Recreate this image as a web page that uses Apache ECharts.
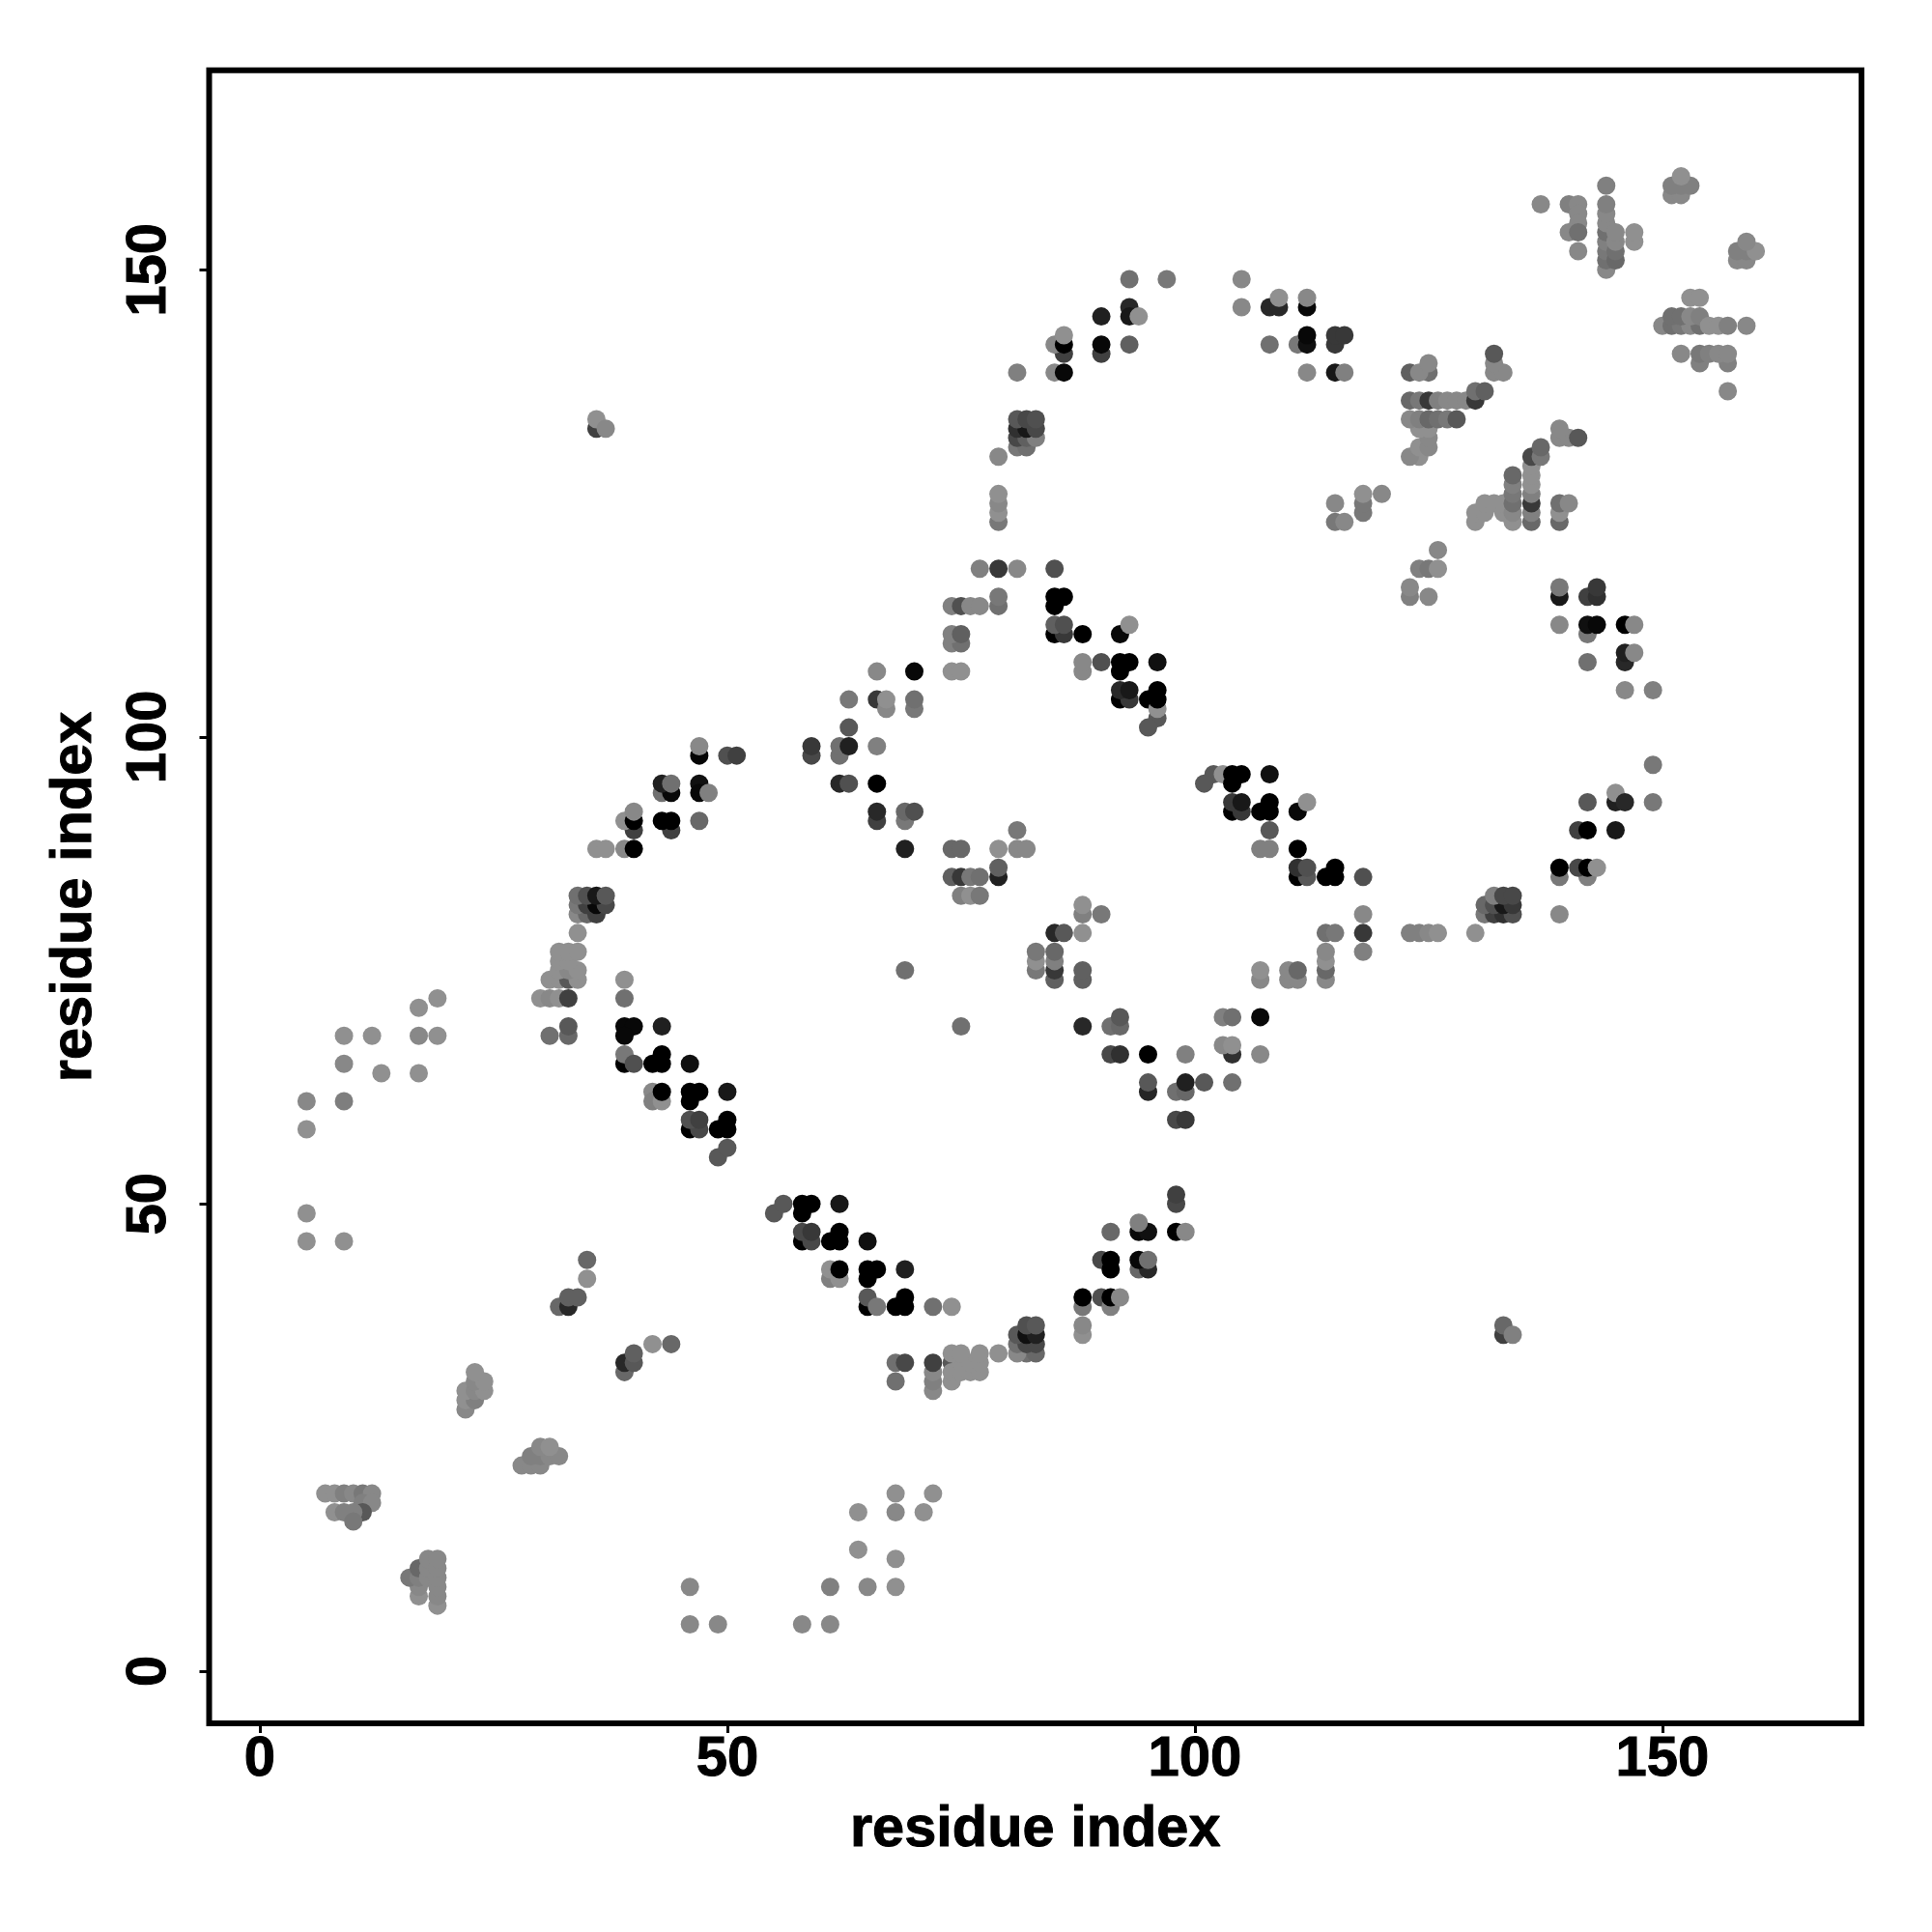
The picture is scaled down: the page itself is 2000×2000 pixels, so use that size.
<!DOCTYPE html>
<html><head><meta charset="utf-8">
<style>html,body{margin:0;padding:0;background:#fff}#c{width:2000px;height:2000px}</style>
<script src="https://cdn.jsdelivr.net/npm/echarts@6/dist/echarts.min.js"></script>
</head><body><div id="c"></div>
<script>
// each contact: [residue i, residue j, level]; level 0 = darkest, 0x90 = lightest
const tickValues = [0, 50, 100, 150];
const axisTitle = 'residue index';
const lowerLeft = [
[7,19,0x90],[8,19,0x90],[9,19,0x80],[10,19,0x88],[11,19,0x78],[12,19,0x88],[11,18,0x80],[12,18,0x88],
[8,17,0x90],[9,17,0x80],[11,17,0x58],[10,17,0x80],[10,16,0x78],
[17,8,0x90],[17,9,0x88],[16,10,0x78],[17,10,0x80],[17,11,0x68],[18,10,0x88],[18,11,0x88],[18,12,0x88],
[19,7,0x90],[19,8,0x88],[19,9,0x88],[19,10,0x88],[19,11,0x88],[19,12,0x88],
[28,22,0x88],[29,22,0x88],[30,22,0x88],[29,23,0x80],[30,23,0x80],[31,23,0x88],[32,23,0x88],[30,24,0x88],[31,24,0x90],
[22,28,0x88],[22,29,0x90],[23,29,0x80],[22,30,0x90],[23,30,0x88],[24,30,0x90],[23,31,0x88],[24,31,0x90],[23,32,0x90],
[39,32,0x68],[39,33,0x28],[40,33,0x58],[40,34,0x60],[42,35,0x90],[44,35,0x68],
[32,39,0x68],[33,39,0x28],[33,40,0x60],[34,40,0x60],[35,42,0x90],[35,44,0x68],
[5,46,0x90],[9,46,0x90],[5,49,0x90],[5,58,0x90],[5,61,0x88],[9,61,0x7e],[9,65,0x88],[13,64,0x90],[17,64,0x90],
[9,68,0x90],[12,68,0x90],[17,68,0x88],[19,68,0x90],[17,71,0x90],[19,72,0x90],
[46,5,0x88],[49,5,0x88],[46,9,0x88],[58,5,0x88],[61,5,0x88],[61,9,0x80],[65,9,0x88],[68,9,0x90],
[68,12,0x90],[64,13,0x90],[64,17,0x90],[68,17,0x88],[71,17,0x90],[68,19,0x90],[72,19,0x90]
];
const helixA = [
[30,72,0x90],[31,72,0x88],[32,72,0x90],[33,72,0x40],[31,74,0x90],[32,74,0x90],[33,74,0x58],[34,74,0x90],
[32,75,0x90],[33,75,0x88],[34,75,0x90],[32,76,0x90],[33,76,0x90],[32,77,0x90],[33,77,0x90],[34,77,0x90],[34,79,0x90],
[34,81,0x88],[35,81,0x68],[36,81,0x40],[34,82,0x78],[35,82,0x40],[36,82,0x08],[37,82,0x48],
[34,83,0x70],[35,83,0x50],[36,83,0x18],[37,83,0x58],
[39,74,0x90],[39,72,0x70],[33,68,0x68],[33,69,0x58],[31,68,0x70],
[39,69,0x08],[40,69,0x08],[39,68,0x08],[43,69,0x20],[39,65,0x00],[39,66,0x78],[40,65,0x50],
[42,65,0x00],[43,65,0x00],[43,66,0x00],[46,65,0x10],
[42,62,0x88],[42,61,0x80],[43,61,0x90],[43,62,0x00],[46,61,0x00],[46,62,0x00],[47,62,0x00],[50,62,0x18],
[46,58,0x00],[47,58,0x48],[46,59,0x50],[47,59,0x40],[49,58,0x00],[50,58,0x00],[50,59,0x00],[49,55,0x58],[50,56,0x58]
];
const helixB = [
[36,88,0x90],[37,88,0x90],[39,88,0x88],[40,88,0x00],[40,90,0x40],[39,91,0x90],[40,91,0x00],[40,92,0x88],
[44,90,0x40],[43,91,0x00],[44,91,0x00],[47,91,0x68],[43,94,0x70],[44,94,0x08],[43,95,0x20],[44,95,0x70],
[47,95,0x10],[47,94,0x08],[48,94,0x80],[47,98,0x05],[47,99,0x88],[50,98,0x50],[51,98,0x40],
[59,98,0x48],[59,99,0x38],[62,98,0x70],[62,99,0x70],[63,99,0x20],[66,99,0x80],[63,101,0x58],
[62,95,0x28],[63,95,0x50],[66,95,0x00],[66,91,0x40],[66,92,0x28],[69,91,0x78],[69,92,0x68],[70,92,0x50],[69,88,0x20],
[63,104,0x78],[66,104,0x38],[67,103,0x88],[67,104,0x90],[70,103,0x78],[70,104,0x70],[66,107,0x88],[70,107,0x08],
[74,107,0x90],[75,107,0x90],[74,110,0x80],[75,110,0x70],[74,111,0x80],[75,111,0x60],
[74,114,0x80],[75,114,0x50],[76,114,0x88],[77,114,0x88],[79,114,0x70],[79,115,0x78],
[77,118,0x80],[79,118,0x38],[81,118,0x88],
[74,88,0x68],[75,88,0x68],[79,88,0x90],[81,88,0x88],[82,88,0x88],[81,90,0x78],
[74,85,0x60],[75,85,0x38],[76,85,0x78],[77,85,0x70],[79,85,0x20],[79,86,0x60],
[75,83,0x80],[76,83,0x90],[77,83,0x78],[69,75,0x70],[75,69,0x70]
];
const helixC = [
[85,118,0x50],[85,114,0x00],[85,115,0x00],[86,115,0x00],[85,111,0x00],[86,111,0x38],[85,112,0x60],[86,112,0x50],[88,111,0x00],
[92,111,0x08],[93,112,0x90],[88,107,0x88],[88,108,0x88],[90,108,0x50],[92,107,0x00],[92,108,0x00],[93,108,0x00],[96,108,0x10],
[92,104,0x00],[93,104,0x38],[92,105,0x28],[93,105,0x18],[95,104,0x00],[96,102,0x58],[95,101,0x58],[96,103,0x90],[96,104,0x00],[96,105,0x00],
[102,96,0x58],[101,95,0x58],[103,96,0x90],[104,95,0x00],[104,96,0x00],[105,96,0x00],[108,96,0x10],
[104,92,0x00],[105,92,0x38],[104,93,0x38],[105,93,0x18],[107,92,0x00],[108,92,0x00],[108,93,0x00],[111,92,0x08],[112,93,0x90],
[108,90,0x58],[107,88,0x80],[108,88,0x80],[111,88,0x00],
[111,85,0x00],[112,85,0x58],[111,86,0x30],[112,86,0x50],[114,85,0x00],[115,85,0x00],[115,86,0x00],[118,85,0x50],
[118,81,0x88],[118,79,0x38],[118,77,0x80],
[88,81,0x80],[88,82,0x90],[90,81,0x78],[85,79,0x28],[86,79,0x58],[88,79,0x90],
[83,75,0x78],[83,76,0x90],[83,77,0x78],[85,74,0x60],[85,75,0x38],[85,76,0x80],[85,77,0x68],[88,74,0x60],[88,75,0x60],
[107,74,0x88],[107,75,0x90],[110,74,0x88],[111,74,0x88],[110,75,0x88],[111,75,0x68],
[114,74,0x88],[114,75,0x68],[114,76,0x90],[114,77,0x88],[114,79,0x70],[115,79,0x78],
[123,79,0x80],[124,79,0x80],[125,79,0x88],[126,79,0x90]
];
const helixD = [
[88,69,0x28],[91,69,0x70],[92,69,0x68],[92,70,0x58],[103,70,0x80],[104,70,0x70],[107,70,0x08],
[104,66,0x30],[103,67,0x88],[104,67,0x90],[107,66,0x88],
[91,66,0x48],[92,66,0x30],[95,66,0x00],[99,66,0x80],[95,62,0x25],[95,63,0x58],[98,62,0x70],[99,62,0x68],[99,63,0x20],[101,63,0x58],[104,63,0x70],
[98,59,0x48],[99,59,0x38],[98,50,0x48],[98,51,0x40],
[91,47,0x68],[94,47,0x08],[95,47,0x10],[94,48,0x80],[98,47,0x00],[99,47,0x88],
[90,44,0x48],[91,43,0x00],[91,44,0x00],[94,43,0x68],[95,43,0x28],[94,44,0x08],[95,44,0x70],
[88,39,0x78],[88,40,0x00],[90,40,0x50],[91,39,0x80],[91,40,0x00],[92,40,0x88],[88,36,0x90],[88,37,0x88],
[82,34,0x70],[83,34,0x68],[81,34,0x88],[81,35,0x70],[82,35,0x48],[83,35,0x48],[81,36,0x58],[82,36,0x10],[83,36,0x20],[82,37,0x50],[83,37,0x58],
[79,34,0x90],[74,33,0x58],[74,31,0x90],[74,32,0x90],[75,32,0x90],[76,32,0x90],[77,32,0x90],[75,33,0x90],[76,33,0x90],[77,33,0x90],[74,34,0x90],[75,34,0x90],[77,34,0x90],
[72,30,0x88],[72,31,0x80],[72,32,0x88],[72,33,0x40],[68,31,0x70],[68,33,0x70],[69,33,0x48],
[55,49,0x58],[56,50,0x58],[58,49,0x00],[58,50,0x00],[59,50,0x00],[62,50,0x18],
[58,46,0x00],[59,46,0x48],[58,47,0x48],[59,47,0x38],[61,46,0x00],[62,46,0x00],[62,47,0x00],[65,46,0x10],
[61,42,0x80],[62,42,0x90],[61,43,0x90],[62,43,0x00],[65,42,0x00],[65,43,0x00],[66,43,0x00],[69,43,0x20],
[65,39,0x00],[65,40,0x58],[66,39,0x78],[68,39,0x00],[69,39,0x00],[69,40,0x00],[72,39,0x70],[74,39,0x90]
];
const upperMiddle = [
[93,149,0x70],[97,149,0x78],[105,149,0x88],[105,146,0x88],[108,146,0x28],[109,146,0x28],[109,147,0x90],[112,146,0x08],[112,147,0x88],
[90,145,0x20],[93,146,0x28],[93,145,0x18],[94,145,0x90],[86,141,0x40],[85,142,0x88],[86,142,0x00],[86,143,0x90],
[90,141,0x40],[90,142,0x08],[93,142,0x60],[108,142,0x70],[111,142,0x78],[112,142,0x10],[112,143,0x08],
[115,142,0x38],[115,143,0x38],[116,143,0x38],[81,139,0x80],[85,139,0x88],[86,139,0x08],[112,139,0x88],[115,139,0x18],[116,139,0x80],
[81,131,0x78],[82,131,0x70],[81,132,0x48],[82,132,0x60],[83,132,0x80],[81,133,0x30],[82,133,0x18],[83,133,0x48],[81,134,0x58],[82,134,0x48],[83,134,0x50],
[79,130,0x88],[79,123,0x78],[79,124,0x90],[79,125,0x88],[79,126,0x90],
[36,133,0x40],[36,134,0x90],[37,133,0x88],
[115,123,0x78],[116,123,0x88],[115,125,0x88],[118,124,0x78],[118,125,0x78],[118,126,0x90],[120,126,0x88],
[133,36,0x40],[133,37,0x68],[134,36,0x80]
];
const upperRight = [
[123,139,0x60],[125,139,0x70],[124,139,0x88],[125,140,0x88],[132,139,0x88],[133,139,0x88],[132,140,0x88],[132,141,0x58],
[124,130,0x90],[123,130,0x88],[124,131,0x90],[125,131,0x88],[125,132,0x88],[124,133,0x90],[125,133,0x90],
[123,134,0x88],[124,134,0x80],[125,134,0x68],[126,134,0x70],[127,134,0x78],[128,134,0x58],
[123,136,0x68],[124,136,0x78],[125,136,0x38],[126,136,0x80],[127,136,0x88],[128,136,0x88],[129,136,0x88],
[130,136,0x38],[130,137,0x70],[131,137,0x60],
[139,132,0x88],[140,132,0x88],[139,133,0x88],[141,132,0x58],
[130,123,0x90],[130,124,0x90],[131,124,0x90],[131,125,0x90],[132,125,0x90],[133,124,0x90],[133,125,0x90],
[134,123,0x90],[134,124,0x88],[134,125,0x70],[134,126,0x78],[134,127,0x80],[134,128,0x68],
[136,123,0x68],[136,124,0x80],[136,125,0x38],[136,126,0x80],[136,127,0x90],[136,128,0x90],[136,129,0x90],[136,130,0x48],[137,130,0x78],[137,131,0x68],
[139,123,0x68],[139,124,0x90],[139,125,0x70],[140,125,0x88],
[126,120,0x88],[124,118,0x80],[125,118,0x78],[126,118,0x90],[123,115,0x80],[123,116,0x88],[125,115,0x88]
];
const topRight = [
[144,159,0x80],[137,157,0x88],[140,157,0x80],[141,157,0x88],[141,156,0x88],[141,155,0x88],[140,154,0x88],[141,154,0x70],[141,152,0x88],
[144,150,0x88],[144,151,0x70],[144,152,0x78],[144,153,0x80],[144,154,0x70],[144,155,0x88],[144,156,0x88],[144,157,0x80],
[145,151,0x68],[145,152,0x70],[145,153,0x88],[145,154,0x88],[147,153,0x90],[147,154,0x90],
[151,158,0x88],[152,158,0x88],[151,159,0x80],[153,159,0x80],[152,159,0x80],[152,160,0x90],
[158,151,0x88],[159,151,0x88],[158,152,0x80],[159,152,0x80],[160,152,0x90],[159,153,0x88],
[153,147,0x90],[154,147,0x90],
[150,144,0x88],[151,144,0x70],[152,144,0x78],[153,144,0x88],[154,144,0x70],[151,145,0x70],[152,145,0x70],[153,145,0x88],[154,145,0x80],
[155,144,0x90],[156,144,0x90],[157,144,0x80],[159,144,0x88],
[154,140,0x80],[157,140,0x80],[152,141,0x88],[154,141,0x78],[155,141,0x80],[156,141,0x88],[157,141,0x88],[157,137,0x88]
];
const lowerRight = [
[139,115,0x18],[139,116,0x78],[142,115,0x40],[143,115,0x30],[143,116,0x38],
[142,111,0x78],[139,112,0x88],[142,112,0x10],[143,112,0x08],[146,112,0x00],[147,112,0x88],
[142,108,0x70],[146,108,0x28],[146,109,0x20],[147,109,0x88],[146,105,0x88],[149,105,0x80],
[149,97,0x78],[149,93,0x78],[142,93,0x58],[145,93,0x20],[145,94,0x90],[146,93,0x28],
[141,90,0x40],[142,90,0x00],[145,90,0x18],
[139,85,0x78],[139,86,0x00],[142,85,0x80],[141,86,0x48],[142,86,0x00],[143,86,0x90],
[139,81,0x88],[131,81,0x78],[132,81,0x40],[133,81,0x30],[134,81,0x50],[131,82,0x68],[132,82,0x50],[133,82,0x18],[134,82,0x38],
[132,83,0x80],[133,83,0x48],[134,83,0x48],[130,79,0x90]
];
const contacts = [].concat(lowerLeft, helixA, helixB, helixC, helixD, upperMiddle, upperRight, topRight, lowerRight);

const chart = echarts.init(document.getElementById('c'), null, {renderer: 'canvas', width: 2000, height: 2000});
const font = 'Liberation Sans';
const labelStyle = {fontFamily: font, fontWeight: 'bold', fontSize: 58, color: '#000', textBorderColor: '#000', textBorderWidth: 1};
const makeAxis = (extra) => Object.assign({
  type: 'value',
  name: axisTitle,
  nameLocation: 'middle',
  nameTextStyle: {fontFamily: font, fontWeight: 'bold', fontSize: 59.5, color: '#000', textBorderColor: '#000', textBorderWidth: 1},
  axisLine: {show: true, onZero: false, lineStyle: {color: '#000', width: 0.01}},
  axisTick: {show: true, customValues: tickValues, length: 10, lineStyle: {color: '#000', width: 3}},
  splitLine: {show: false}
}, extra);
chart.setOption({
  animation: false,
  backgroundColor: '#fff',
  grid: {left: 216.5, top: 72.7, width: 1710.5, height: 1711.3, show: true, borderColor: '#000', borderWidth: 6, backgroundColor: 'transparent'},
  visualMap: {show: false, type: 'continuous', dimension: 2, seriesIndex: 0, min: 0, max: 0x90, inRange: {color: ['#000000', '#909090']}},
  xAxis: makeAxis({
    min: -5.42, max: 171.3, nameGap: 81,
    axisLabel: Object.assign({customValues: tickValues, margin: 9}, labelStyle)
  }),
  yAxis: makeAxis({
    min: -5.6, max: 171.36, nameGap: 109,
    axisLabel: Object.assign({customValues: tickValues, rotate: 90, margin: 33, align: 'center', verticalAlign: 'bottom'}, labelStyle)
  }),
  series: [{type: 'scatter', symbol: 'circle', symbolSize: 19, data: contacts, clip: false, itemStyle: {opacity: 1}, emphasis: {disabled: true}, silent: true}]
});
</script></body></html>
